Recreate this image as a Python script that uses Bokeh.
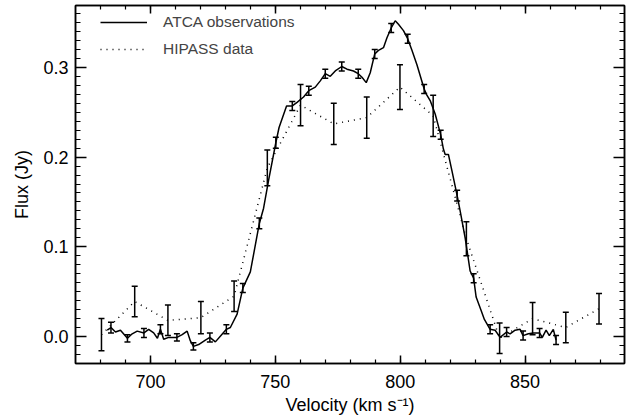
from bokeh.plotting import figure
from bokeh.models import (Legend, LegendItem, Whisker, TeeHead, ColumnDataSource,
                          FixedTicker, LinearAxis, Range1d, CustomLabelingPolicy)
from bokeh.embed import file_html
from bokeh.resources import INLINE

# ---- data ----
atca_v = [682.7, 684.2, 686.0, 688.0, 690.8, 692.7, 694.7, 697.4, 699.3, 701.3,
          702.8, 704.0, 705.3, 707.3, 710.6, 712.7, 714.7, 716.0, 717.2, 719.3,
          722.0, 723.8, 726.0, 728.5, 730.4, 732.0, 734.7, 737.0, 740.0, 743.6,
          745.3, 747.3, 750.2, 751.5, 754.5, 756.8, 758.7, 761.3, 763.4, 766.0,
          768.0, 770.0, 772.0, 774.0, 776.6, 778.7, 781.3, 783.2, 784.7, 786.4,
          788.0, 789.8, 791.3, 793.3, 794.7, 796.4, 798.0, 799.3, 801.3, 803.0,
          804.7, 806.7, 809.6, 810.5, 812.0, 814.0, 816.2, 817.3, 818.0, 819.3,
          820.7, 822.8, 824.0, 826.0, 828.0, 829.4, 830.4, 832.4, 833.7, 836.0,
          838.0, 840.0, 842.6, 844.0, 846.0, 848.0, 849.2, 851.3, 853.3, 855.8,
          856.9, 858.4, 859.7, 861.3, 862.4]
atca_flux = [0.007, 0.010, 0.005, 0.007, -0.002, 0.003, 0.006, 0.004, 0.008, 0.004,
             -0.002, 0.008, -0.003, -0.001, -0.001, 0.002, 0.006, -0.005, -0.011, -0.009,
             -0.004, -0.001, -0.006, 0.002, 0.008, 0.010, 0.025, 0.054, 0.072, 0.126,
             0.143, 0.174, 0.216, 0.233, 0.257, 0.257, 0.261, 0.267, 0.274, 0.278,
             0.285, 0.293, 0.290, 0.296, 0.301, 0.298, 0.296, 0.293, 0.289, 0.283,
             0.294, 0.315, 0.319, 0.322, 0.333, 0.344, 0.352, 0.348, 0.341, 0.332,
             0.319, 0.303, 0.276, 0.270, 0.263, 0.248, 0.225, 0.209, 0.203, 0.203,
             0.185, 0.157, 0.140, 0.110, 0.073, 0.065, 0.044, 0.029, 0.019, 0.008,
             0.007, -0.001, 0.005, 0.003, 0.007, 0.008, 0.001, 0.003, 0.004, 0.004,
             -0.001, 0.007, 0.001, 0.008, -0.004]

atca_err_v = [684.2, 690.8, 697.4, 704.0, 710.6, 717.2, 723.8, 730.4, 737.0, 743.6,
              750.2, 756.8, 763.4, 770.0, 776.6, 783.2, 789.8, 796.4, 803.0, 809.6,
              816.2, 822.8, 829.4, 836.0, 842.6, 849.2, 855.8, 862.4]
atca_err_flux = [0.010, -0.002, 0.004, 0.008, -0.001, -0.011, -0.001, 0.008, 0.054, 0.126,
                 0.216, 0.257, 0.274, 0.293, 0.301, 0.293, 0.315, 0.344, 0.332, 0.276,
                 0.225, 0.157, 0.065, 0.008, 0.005, 0.001, 0.004, -0.004]
atca_err = [0.006, 0.004, 0.005, 0.005, 0.004, 0.004, 0.005, 0.005, 0.005, 0.006,
            0.006, 0.005, 0.005, 0.005, 0.005, 0.005, 0.005, 0.005, 0.005, 0.005,
            0.005, 0.006, 0.005, 0.005, 0.005, 0.005, 0.005, 0.005]

hipass_v = [680.4, 693.7, 707.0, 720.2, 733.5, 746.8, 760.1, 773.4, 786.6, 799.9,
            813.2, 826.5, 839.8, 853.0, 866.3, 879.6]
hipass_flux = [0.002, 0.039, 0.018, 0.021, 0.045, 0.188, 0.258, 0.237, 0.244, 0.278,
               0.246, 0.109, -0.002, 0.020, 0.010, 0.031]
hipass_err = [0.018, 0.017, 0.017, 0.018, 0.017, 0.020, 0.023, 0.023, 0.023, 0.025,
              0.023, 0.019, 0.017, 0.018, 0.017, 0.017]

x_major = [700, 750, 800, 850]
x_tick_labels = ["700", "750", "800", "850"]
x_minor = [680, 690, 700, 710, 720, 730, 740, 750, 760, 770, 780, 790, 800,
           810, 820, 830, 840, 850, 860, 870, 880]
y_major = [0.0, 0.1, 0.2, 0.3]
y_tick_labels = ["0.0", "0.1", "0.2", "0.3"]
y_minor = [round(-0.03 + 0.01 * i, 2) for i in range(40)]

FONT = "Liberation Sans"

p = figure(width=628, height=419, output_backend="svg", toolbar_location=None,
           x_range=Range1d(670, 889.8), y_range=Range1d(-0.0301, 0.369),
           min_border_left=75, min_border_right=4, min_border_top=5, min_border_bottom=56)
p.grid.visible = False
p.outline_line_color = "black"
p.outline_line_width = 1.5
p.background_fill_color = "white"

HIDE_LABELS = CustomLabelingPolicy(code="""
for (let i = 0; i < indices.size; i++) { indices.unset(i) }
return indices
""")

def style_axis(ax, major_len, minor_len, labels=True):
    ax.axis_line_color = "black"
    ax.axis_line_width = 1.5
    ax.major_tick_line_width = 1.5
    ax.minor_tick_line_width = 1.2
    ax.major_tick_in = major_len
    ax.major_tick_out = 0
    ax.minor_tick_in = minor_len
    ax.minor_tick_out = 0
    ax.major_label_text_font = FONT
    ax.axis_label_text_font = FONT
    ax.axis_label_text_font_style = "normal"
    ax.major_label_text_color = "black"
    ax.axis_label_text_color = "black"
    if not labels:
        ax.major_label_policy = HIDE_LABELS
        ax.major_label_text_font_size = "0px"
        ax.major_label_standoff = 0
        ax.axis_label_standoff = 0

xt = FixedTicker(ticks=x_major, minor_ticks=x_minor)
yt = FixedTicker(ticks=y_major, minor_ticks=y_minor)

xa = p.xaxis[0]
xa.ticker = xt
xa.major_label_overrides = dict(zip(x_major, x_tick_labels))
style_axis(xa, 8, 4)
xa.major_label_text_font_size = "18px"
xa.major_label_standoff = 11
xa.axis_label = "Velocity (km s\u207b\u00b9)"
xa.axis_label_text_font_size = "18px"
xa.axis_label_standoff = 4

ya = p.yaxis[0]
ya.ticker = yt
ya.major_label_overrides = dict(zip(y_major, y_tick_labels))
style_axis(ya, 11, 5)
ya.major_label_text_font_size = "18px"
ya.major_label_standoff = 7
ya.axis_label = "Flux (Jy)"
ya.axis_label_text_font_size = "18px"
ya.axis_label_standoff = 8

top = LinearAxis(ticker=xt)
style_axis(top, 8, 4, labels=False)
p.add_layout(top, "above")
right = LinearAxis(ticker=yt)
style_axis(right, 11, 5, labels=False)
p.add_layout(right, "right")

r_atca = p.line(atca_v, atca_flux, line_color="black", line_width=1.5)
r_hip = p.line(hipass_v, hipass_flux, line_color="black", line_width=1.5, line_dash="1 5")

src_a = ColumnDataSource(dict(v=atca_err_v,
                              lo=[f - e for f, e in zip(atca_err_flux, atca_err)],
                              up=[f + e for f, e in zip(atca_err_flux, atca_err)]))
src_h = ColumnDataSource(dict(v=hipass_v,
                              lo=[f - e for f, e in zip(hipass_flux, hipass_err)],
                              up=[f + e for f, e in zip(hipass_flux, hipass_err)]))
for src in (src_a, src_h):
    w = Whisker(source=src, base="v", lower="lo", upper="up",
                line_color="black", line_width=1.5,
                upper_head=TeeHead(size=6, line_color="black", line_width=1.5),
                lower_head=TeeHead(size=6, line_color="black", line_width=1.5))
    p.add_layout(w)

legend = Legend(items=[LegendItem(label="ATCA observations", renderers=[r_atca]),
                       LegendItem(label="HIPASS data", renderers=[r_hip])],
                location=(25, 358 - 7 - 47), margin=0, padding=0,
                glyph_width=47, glyph_height=20, label_height=20, spacing=7,
                label_standoff=16, label_text_font=FONT, label_text_font_size="15.5px",
                border_line_alpha=0, background_fill_alpha=0)
p.add_layout(legend)

open("out.html", "w").write(file_html(p, INLINE))
